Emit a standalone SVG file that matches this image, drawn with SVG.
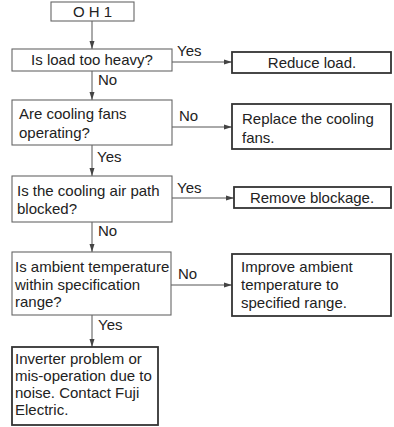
<svg xmlns="http://www.w3.org/2000/svg" width="394" height="427" viewBox="0 0 394 427">
<style>
text{font-family:"Liberation Sans",Arial,sans-serif;font-size:15px;fill:#222}
.q{fill:#fff;stroke:#666;stroke-width:1.1}
.a{fill:#fff;stroke:#333;stroke-width:1.8}
.c{stroke:#555;stroke-width:1;fill:none;marker-end:url(#ah)}
.m{text-anchor:middle}
</style>
<defs>
<marker id="ah" viewBox="0 0 8 6" refX="8" refY="3" markerWidth="8" markerHeight="6" markerUnits="userSpaceOnUse" orient="auto">
<path d="M0,0.5 L8,3 L0,5.5 Z" fill="#444"/>
</marker>
</defs>
<rect width="394" height="427" fill="#fff"/>
<g id="connectors">
<line class="c" x1="92" y1="21" x2="92" y2="49"/>
<line class="c" x1="92" y1="71" x2="92" y2="100"/>
<line class="c" x1="92" y1="145" x2="92" y2="176"/>
<line class="c" x1="92" y1="222" x2="92" y2="252"/>
<line class="c" x1="92" y1="315" x2="92" y2="347"/>
<line class="c" x1="172" y1="62" x2="232" y2="62"/>
<line class="c" x1="172" y1="127" x2="232" y2="127"/>
<line class="c" x1="172" y1="198" x2="234" y2="198"/>
<line class="c" x1="171" y1="285" x2="232" y2="285"/>
<text x="98" y="85">No</text>
<text x="97" y="162">Yes</text>
<text x="98" y="236">No</text>
<text x="98" y="330">Yes</text>
<text x="177" y="56">Yes</text>
<text x="179" y="121">No</text>
<text x="177" y="193">Yes</text>
<text x="178" y="279">No</text>
</g>
<g id="start">
<rect class="q" x="51" y="2" width="83" height="19"/>
<text class="m" x="92.5" y="17">O H 1</text>
</g>
<g id="q1">
<rect class="q" x="12" y="49" width="160" height="22"/>
<text class="m" x="92" y="65">Is load too heavy?</text>
</g>
<g id="q2">
<rect class="q" x="12" y="100" width="160" height="45"/>
<text x="19" y="119">Are cooling fans</text>
<text x="19" y="138">operating?</text>
</g>
<g id="q3">
<rect class="q" x="12" y="176" width="160" height="46"/>
<text x="17" y="196">Is the cooling air path</text>
<text x="17" y="214">blocked?</text>
</g>
<g id="q4">
<rect class="q" x="12" y="252" width="159" height="63"/>
<text x="15" y="272">Is ambient temperature</text>
<text x="15" y="290">within specification</text>
<text x="15" y="307">range?</text>
</g>
<g id="a1">
<rect class="a" x="232" y="52" width="159" height="21"/>
<text class="m" x="312" y="68">Reduce load.</text>
</g>
<g id="a2">
<rect class="a" x="232" y="104" width="159" height="45"/>
<text x="242" y="124">Replace the cooling</text>
<text x="242" y="143">fans.</text>
</g>
<g id="a3">
<rect class="a" x="234" y="187" width="157" height="21"/>
<text class="m" x="312" y="203">Remove blockage.</text>
</g>
<g id="a4">
<rect class="a" x="232" y="254" width="159" height="62"/>
<text x="241" y="272">Improve ambient</text>
<text x="241" y="290">temperature to</text>
<text x="241" y="308">specified range.</text>
</g>
<g id="a5">
<rect class="a" x="12" y="347" width="146" height="78"/>
<text x="15" y="364">Inverter problem or</text>
<text x="15" y="381">mis-operation due to</text>
<text x="15" y="398">noise. Contact Fuji</text>
<text x="15" y="415">Electric.</text>
</g>
</svg>
